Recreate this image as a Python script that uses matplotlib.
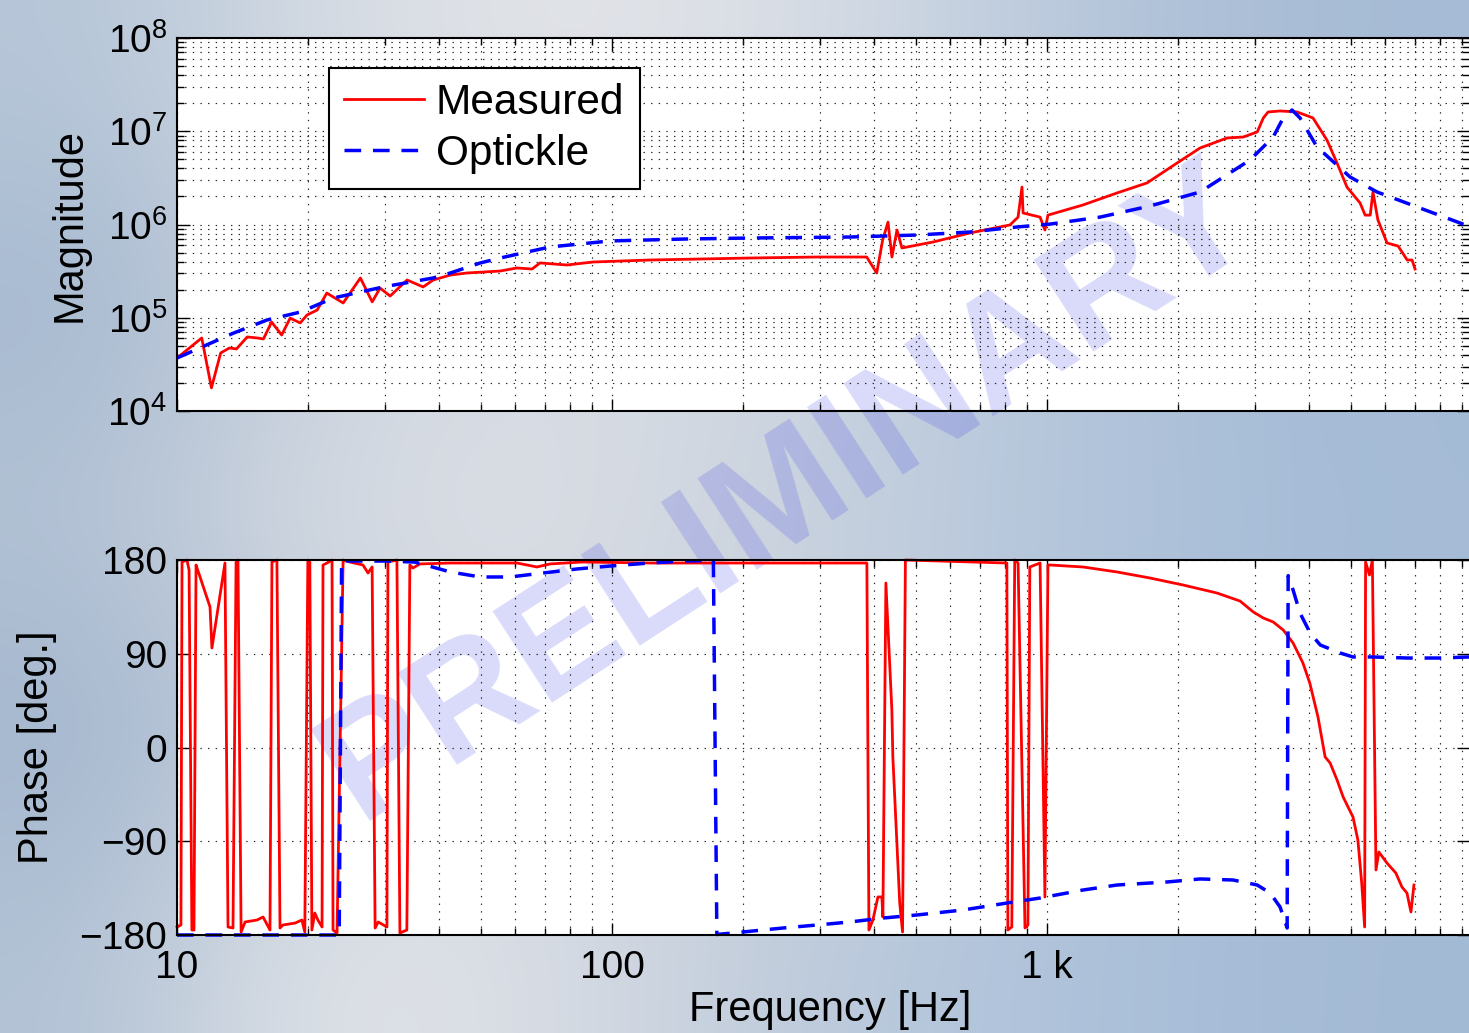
import numpy as np
import matplotlib
matplotlib.use("Agg")
import matplotlib.pyplot as plt
from matplotlib.ticker import LogLocator, FixedLocator, FixedFormatter, NullFormatter, NullLocator
from matplotlib.patches import Rectangle

# ---------------- data ----------------
series_labels = ["Measured", "Optickle"]

mag_meas_freq = [10.0, 11.4, 12.0, 12.6, 13.2, 13.7, 14.5, 15.3, 15.8, 16.5,
                 17.4, 18.2, 19.2, 19.9, 21.0, 22.1, 24.1, 26.4, 28.1, 29.3,
                 30.9, 33.8, 36.8, 38.8, 42.5, 46.4, 55.3, 60.5, 65.5, 68.3,
                 78.8, 90.4, 122, 207, 296, 385, 406, 419, 431, 440,
                 452, 464, 547, 665, 822, 858, 876, 881, 964, 989,
                 1005, 1210, 1449, 1698, 1990, 2248, 2594, 2825, 3043, 3143,
                 3223, 3434, 3757, 4087, 4401, 4643, 4893, 5245, 5387, 5534,
                 5615, 5763, 6050, 6414, 6730, 6906, 7016]
mag_meas_val = [3.70e4, 6.07e4, 1.77e4, 4.19e4, 4.74e4, 4.63e4, 6.22e4, 6.07e4, 5.92e4, 9.0e4,
                6.53e4, 9.9e4, 8.8e4, 1.07e5, 1.21e5, 1.84e5, 1.44e5, 2.67e5, 1.48e5, 2.08e5,
                1.71e5, 2.54e5, 2.14e5, 2.54e5, 2.87e5, 3.02e5, 3.17e5, 3.42e5, 3.33e5, 3.87e5,
                3.68e5, 3.96e5, 4.16e5, 4.37e5, 4.48e5, 4.48e5, 3.02e5, 6.83e5, 1.06e6, 4.48e5,
                8.73e5, 5.60e5, 6.49e5, 8.11e5, 9.89e5, 1.20e6, 2.52e6, 1.33e6, 1.20e6, 8.73e5,
                1.26e6, 1.62e6, 2.18e6, 2.79e6, 4.56e6, 6.61e6, 8.47e6, 8.67e6, 9.82e6, 1.39e7,
                1.61e7, 1.65e7, 1.61e7, 1.39e7, 8.05e6, 4.56e6, 2.52e6, 1.70e6, 1.26e6, 1.26e6,
                2.23e6, 1.12e6, 6.34e5, 5.87e5, 4.16e5, 4.16e5, 3.33e5]

mag_opt_freq = [10, 13.5, 16.1, 19.2, 22.9, 29.8, 38.8, 42.5, 49.8, 55.3,
                72.0, 98.9, 146, 207, 352, 502, 665, 853, 1016, 1324,
                1725, 2248, 2930, 3311, 3492, 3658, 3816, 4176, 4975, 5739,
                7096, 9290]
mag_opt_val = [3.70e4, 6.86e4, 9.46e4, 1.15e5, 1.63e5, 2.14e5, 2.67e5, 3.02e5, 3.87e5, 4.37e5,
               5.74e5, 6.66e5, 6.98e5, 7.16e5, 7.34e5, 7.71e5, 8.31e5, 9.40e5, 1.01e6, 1.20e6,
               1.58e6, 2.23e6, 4.92e6, 8.67e6, 1.39e7, 1.69e7, 1.39e7, 6.78e6, 3.23e6, 2.23e6,
               1.54e6, 9.64e5]

ph_meas_freq = [10.0, 10.21, 10.27, 10.54, 10.66, 10.82, 10.94, 11.06, 11.12, 11.91,
                12.03, 12.89, 13.10, 13.45, 13.67, 13.81, 14.04, 14.34, 15.28, 15.77,
                16.36, 16.53, 16.97, 17.25, 17.52, 18.70, 19.37, 19.67, 19.99, 20.20,
                20.42, 20.74, 21.08, 21.55, 21.66, 22.12, 22.72, 22.84, 23.33, 24.09,
                24.98, 26.76, 27.49, 28.09, 28.54, 29.01, 30.38, 30.54, 32.03, 32.54,
                33.76, 34.30, 34.85, 36.18, 42.46, 60.5, 67.2, 72.0, 85.6, 122.3,
                247.5, 385.4, 389.6, 397.9, 408.6, 417.3, 419.5, 426.2, 439.9, 442.2,
                458.6, 465.5, 472.6, 808.6, 812.9, 830, 843, 858, 890, 904,
                913, 964, 989, 1005, 1016, 1210, 1449, 1725, 2055, 2459,
                2778, 2980, 3143, 3311, 3492, 3679, 3876, 4019, 4197, 4359,
                4476, 4643, 4795, 5051, 5184, 5290, 5373, 5400, 5512, 5597,
                5705, 5793, 6047, 6338, 6546, 6722, 6865, 6975]
ph_meas_deg = [-172.3, -170.4, 178.1, 180.0, 170.4, -175.2, -175.2, 175.2, 172.3, 134.9,
               95.5, 177.1, -172.3, -173.3, 178.1, 180.0, -177.1, -167.5, -165.6, -162.7,
               -175.2, 178.1, 180.0, -173.3, -170.4, -168.5, -165.6, -177.1, 180.0, 178.0,
               -175.2, -158.9, -165.6, -172.3, 175.2, 177.1, 180.0, -175.2, -178.1, 180.0,
               178.0, 175.2, 167.5, 173.3, -173.3, -167.5, -172.3, 178.0, 180.0, -178.1,
               -175.2, 175.2, 172.3, 176.2, 177.1, 177.1, 173.3, 176.2, 178.1, 177.1,
               177.1, 177.1, -175.2, -165.6, -143.5, -143.5, -162.7, 157.9, 36.0, -9.1,
               -149.3, -177.1, 180.0, 177.1, -175.2, -172.3, 180.0, 177.1, -173.3, -170.4,
               173.3, 177.1, -143.5, 175.2, 175.2, 173.3, 168.5, 162.7, 156.0, 148.3,
               140.6, 130.1, 124.3, 120.5, 112.8, 100.3, 81.1, 61.9, 29.3, -9.1,
               -14.9, -31.2, -47.5, -66.7, -88.8, -130.1, -172.3, 178.1, 165.6, 180.0,
               -117.6, -100.3, -110.9, -120.5, -133.9, -139.7, -157.9, -132.0]

ph_opt_freq = [10, 23.6, 23.9, 25.0, 30.4, 35.2, 42.5, 49.8, 58.3, 69.4,
               83.1, 98.9, 122, 146, 171, 174.2, 200, 247, 296, 352,
               420, 502, 641, 809, 964, 1210, 1449, 1888, 2248, 2679,
               3043, 3258, 3434, 3565, 3584, 3679, 3816, 4027, 4248, 4721,
               5051, 5615, 6730, 8003, 9333]
ph_opt_deg = [-180, -180, 179.5, 179, 179, 178, 168.5, 163.7, 163.7, 167.5,
              171.4, 174.2, 177.1, 179, 179.5, -179.5, -177.1, -173.3, -170.4, -167.5,
              -163.7, -160.8, -156, -149.3, -144.5, -136.8, -132, -129.1, -126.2, -127.2,
              -132, -139.7, -153.1, -173.3, 165, 151.2, 129.1, 109.9, 98.4, 90.7,
              86.9, 86.9, 85.9, 85.9, 86.9]

freq_ticks = [10, 100, 1000]
freq_tick_labels = ["10", "100", "1 k"]
phase_ticks = [-180, -90, 0, 90, 180]
phase_tick_labels = ["\u2212180", "\u221290", "0", "90", "180"]
mag_ticks = [1e4, 1e5, 1e6, 1e7, 1e8]
mag_tick_labels = [r"$\mathregular{10^{4}}$", r"$\mathregular{10^{5}}$", r"$\mathregular{10^{6}}$",
                   r"$\mathregular{10^{7}}$", r"$\mathregular{10^{8}}$"]

# ---------------- styling ----------------
plt.rcParams["font.family"] = ["Liberation Sans", "DejaVu Sans"]
plt.rcParams["mathtext.default"] = "regular"
plt.rcParams["lines.scale_dashes"] = False
plt.rcParams["axes.unicode_minus"] = True

W, H = 1469, 1033
fig = plt.figure(figsize=(W / 100, H / 100), dpi=100)

# brushed-metal like background gradient
bg_rows = [
    [(182, 198, 216), (214, 220, 228), (226, 228, 232), (222, 225, 231), (200, 211, 225), (176, 194, 216), (166, 187, 213)],
    [(163, 183, 207), (200, 208, 220), (215, 220, 228), (210, 216, 225), (192, 205, 222), (172, 192, 216), (164, 186, 213)],
    [(182, 196, 214), (216, 221, 228), (222, 225, 230), (206, 213, 223), (188, 203, 221), (174, 194, 218), (165, 188, 215)],
    [(160, 180, 205), (196, 205, 218), (212, 217, 225), (205, 212, 222), (190, 204, 221), (172, 192, 217), (164, 186, 213)],
    [(178, 194, 213), (226, 229, 233), (218, 222, 229), (196, 206, 220), (180, 198, 220), (170, 191, 217), (163, 186, 213)],
]
bg = np.array(bg_rows, dtype=float) / 255.0
bgax = fig.add_axes([0, 0, 1, 1], zorder=-10)
bgax.imshow(bg, extent=[0, 1, 0, 1], aspect="auto", interpolation="bicubic", origin="upper")
bgax.set_xlim(0, 1)
bgax.set_ylim(0, 1)
bgax.axis("off")

left = 177 / W
pos1 = [left, 1 - 411 / H, 1 - left, 373 / H]
pos2 = [left, 1 - 935 / H, 1 - left, 375 / H]

for p in (pos1, pos2):
    fig.add_artist(Rectangle((p[0], p[1]), p[2], p[3], transform=fig.transFigure,
                             facecolor="white", edgecolor="none", zorder=0.2))

# watermark (under the plot lines, over the white panels)
fig.text(788 / W, 1 - 494 / H, "PRELIMINARY", rotation=33, rotation_mode="anchor",
         ha="center", va="center", fontsize=113, fontweight="bold",
         color=(0.27, 0.27, 0.9), alpha=0.2, zorder=0.5)

ax1 = fig.add_axes(pos1, zorder=1)
ax2 = fig.add_axes(pos2, zorder=1)

xmax = 10 ** (1 + (W - 177) / 435.0)
tick_fs = 28
grid_kw = dict(linestyle=(0, (1, 4.5)), color="0.15", linewidth=0.85)

for ax in (ax1, ax2):
    ax.set_facecolor("none")
    ax.set_xscale("log")
    ax.set_xlim(10, xmax)
    ax.xaxis.set_major_locator(FixedLocator(freq_ticks))
    ax.xaxis.set_minor_locator(LogLocator(base=10, subs=np.arange(2, 10), numticks=20))
    ax.xaxis.set_minor_formatter(NullFormatter())
    ax.tick_params(which="both", direction="in", top=True, right=True, width=1.0, colors="black")
    ax.tick_params(which="major", length=9)
    ax.tick_params(which="minor", length=5)
    ax.tick_params(axis="y", labelsize=tick_fs, pad=7)
    ax.tick_params(axis="x", labelsize=tick_fs, pad=11)
    for s in ax.spines.values():
        s.set_linewidth(1.5)
    ax.spines["right"].set_visible(False)
    ax.set_axisbelow(True)

# ---- magnitude ----
ax1.set_yscale("log")
ax1.set_ylim(1e4, 1e8)
ax1.yaxis.set_major_locator(FixedLocator(mag_ticks))
ax1.yaxis.set_major_formatter(FixedFormatter(mag_tick_labels))
ax1.yaxis.set_minor_locator(LogLocator(base=10, subs=np.arange(2, 10), numticks=20))
ax1.yaxis.set_minor_formatter(NullFormatter())
ax1.xaxis.set_major_formatter(NullFormatter())
ax1.grid(True, which="major", **grid_kw)
ax1.grid(True, which="minor", **grid_kw)

l1, = ax1.plot(mag_meas_freq, mag_meas_val, color="#ff0000", linewidth=2.0, label=series_labels[0])
l2, = ax1.plot(mag_opt_freq, mag_opt_val, color="#0000ff", linewidth=2.5,
               dashes=(12, 8.5), label=series_labels[1])

leg = ax1.legend(handles=[l1, l2], loc="upper left",
                 bbox_to_anchor=((329 - 177) / 1292, 1 - (68 - 38) / 373),
                 fontsize=30.5, frameon=True, fancybox=False, framealpha=1,
                 edgecolor="black", borderaxespad=0, handlelength=1.88,
                 handletextpad=0.28, labelspacing=0.25, borderpad=0.36)
leg.get_frame().set_linewidth(1.5)

# ---- phase ----
ax2.set_ylim(-180, 180)
ax2.yaxis.set_major_locator(FixedLocator(phase_ticks))
ax2.yaxis.set_major_formatter(FixedFormatter(phase_tick_labels))
ax2.yaxis.set_minor_locator(NullLocator())
ax2.xaxis.set_major_formatter(FixedFormatter(freq_tick_labels))
ax2.grid(True, which="major", **grid_kw)
ax2.grid(True, which="minor", axis="x", **grid_kw)

ax2.plot(ph_meas_freq, ph_meas_deg, color="#ff0000", linewidth=2.0, clip_on=False)
ax2.plot(ph_opt_freq, ph_opt_deg, color="#0000ff", linewidth=2.5, dashes=(12, 8.5), clip_on=False)

# axis labels
fig.text(70 / W, 1 - 225 / H, "Magnitude", rotation=90, ha="center", va="center", fontsize=30)
fig.text(37 / W, 1 - 747 / H, "Phase [deg.]", rotation=90, ha="center", va="center", fontsize=30)
fig.text(830 / W, 1 - 1010 / H, "Frequency [Hz]", ha="center", va="center", fontsize=30)

fig.savefig("out.png", dpi=100)
